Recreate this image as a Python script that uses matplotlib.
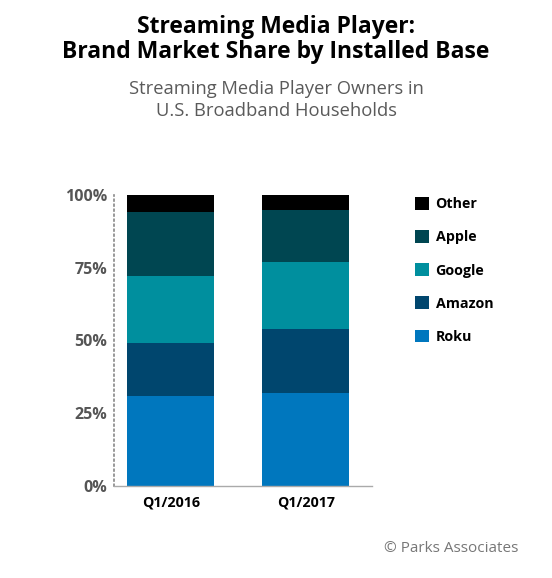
import matplotlib
matplotlib.use("Agg")
import matplotlib.pyplot as plt
import numpy as np

categories = ["Q1/2016", "Q1/2017"]
series_names = ["Roku", "Amazon", "Google", "Apple", "Other"]
roku = [31, 32]
amazon = [18, 22]
google = [23, 23]
apple = [22, 18]
other = [6, 5]
yticks = [0, 25, 50, 75, 100]
ytick_labels = ["0%", "25%", "50%", "75%", "100%"]
colors = ["#0077BE", "#00466E", "#008F9E", "#004651", "#000000"]

plt.rcParams['font.family'] = ['Open Sans', 'DejaVu Sans']

fig = plt.figure(figsize=(5.52, 5.78), dpi=100)
W, H = 552, 578
# axes in pixel coords: left 114, right 372, bottom 486, top 195
ax = fig.add_axes([114 / W, 1 - 486 / H, (372 - 114) / W, (486 - 195) / H])

x = np.arange(len(categories))
bottom = np.zeros(len(categories))
handles = []
for name, vals, c in zip(series_names, [roku, amazon, google, apple, other], colors):
    b = ax.bar(x, vals, width=0.645, bottom=bottom, color=c, label=name, linewidth=0)
    handles.append(b)
    bottom += np.array(vals)

ax.set_xlim(-0.42, 1.49)
ax.set_ylim(0, 100)
ax.set_yticks(yticks)
ax.set_yticklabels(ytick_labels, fontsize=11.5, fontweight='bold', color='#555555')
ax.set_xticks(x)
ax.set_xticklabels(categories, fontsize=10.3, fontweight='bold', color='black')
ax.tick_params(axis='y', length=0, pad=5)
ax.tick_params(axis='x', length=0, pad=7)
for s in ['top', 'right']:
    ax.spines[s].set_visible(False)
ax.spines['left'].set_linestyle((0, (1, 2)))
ax.spines['left'].set_color('#888888')
ax.spines['left'].set_linewidth(1.2)
ax.spines['bottom'].set_color('#aaaaaa')
ax.spines['bottom'].set_linewidth(1)

leg = fig.legend(handles[::-1], series_names[::-1], loc='upper left',
                 bbox_to_anchor=(402 / W, 1 - 184 / H), frameon=False,
                 handlelength=1.0, handleheight=1.0, labelspacing=1.32,
                 handletextpad=0.45, prop={'weight': 'bold', 'size': 10.3})

fig.text(276 / W, 1 - 27 / H, "Streaming Media Player:", ha='center', va='center',
         fontsize=16.5, fontweight='bold', color='black')
fig.text(276 / W, 1 - 52 / H, "Brand Market Share by Installed Base", ha='center', va='center',
         fontsize=16.5, fontweight='bold', color='black')
fig.text(276 / W, 1 - 89 / H, "Streaming Media Player Owners in", ha='center', va='center',
         fontsize=13.2, color='#5a5a5a')
fig.text(276 / W, 1 - 111 / H, "U.S. Broadband Households", ha='center', va='center',
         fontsize=13.2, color='#5a5a5a')
fig.text(518 / W, 1 - 549 / H, "© Parks Associates", ha='right', va='center',
         fontsize=11, color='#777777')

fig.savefig("out.png", dpi=100)
